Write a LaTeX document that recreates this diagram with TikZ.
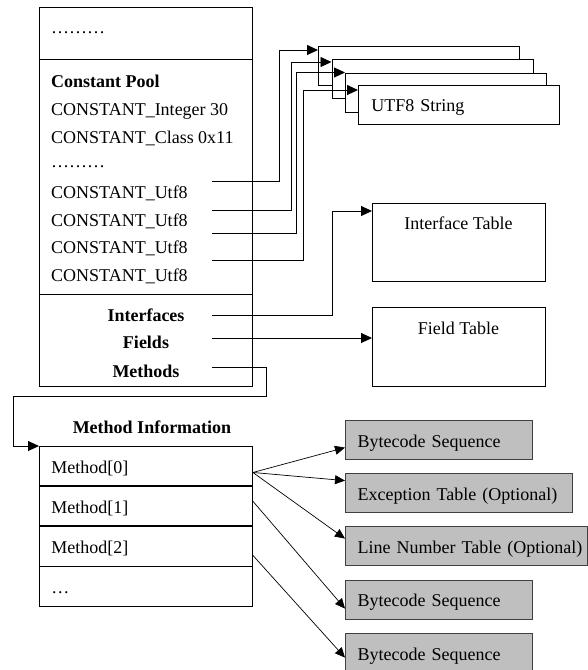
\documentclass[tikz,border=0pt]{standalone}
\usepackage{fontspec}
\setmainfont{Liberation Serif}
\usetikzlibrary{arrows.meta}

\begin{document}
\begin{tikzpicture}[x=1pt,y=-1pt,font=\fontsize{18}{22}\selectfont,
  box/.style={draw,line width=0.9pt,fill=white,inner sep=0pt,anchor=north west},
  row/.style={box,inner xsep=12pt,text width=189pt,minimum height=39.25pt,align=left,text height=14pt,text depth=0pt},
  utf/.style={box,minimum width=201pt,minimum height=39pt},
  tbl/.style={box,minimum width=173pt},
  seq/.style={draw=black!75,line width=1.2pt,fill=black!25,anchor=north west,inner sep=0pt,inner xsep=12pt,
    minimum height=39pt,align=left,text height=14pt,text depth=0pt},
  txt/.style={anchor=base west,inner sep=0pt},
  hd/.style={anchor=base,inner sep=0pt,font=\fontsize{18}{22}\selectfont\bfseries},
  conn/.style={line width=0.9pt,-{Triangle[length=11pt,width=10pt]}},
  mconn/.style={line width=0.7pt,-{Triangle[length=10pt,width=9pt]}}]
  \useasboundingbox (0,0) rectangle (588,670);
  \node[box,minimum width=213pt,minimum height=52pt] (hdr) at (39,7) {};
  \node[box,minimum width=213pt,minimum height=235pt] (pool) at (39,59) {};
  \node[box,minimum width=213pt,minimum height=92pt] (refs) at (39,294) {};
  \node[txt] (dt1) at (51,33) {………};
  \node[txt,font=\fontsize{18}{22}\selectfont\bfseries] (cpool) at (51,87) {Constant Pool};
  \node[txt] (cint) at (51,115) {CONSTANT\_Integer 30};
  \node[txt] (ccls) at (51,143) {CONSTANT\_Class 0x11};
  \node[txt] (dt2) at (51,167) {………};
  \node[txt] (utfa) at (51,198) {CONSTANT\_Utf8};
  \node[txt] (utfb) at (51,226) {CONSTANT\_Utf8};
  \node[txt] (utfc) at (51,253) {CONSTANT\_Utf8};
  \node[txt] (utfd) at (51,281) {CONSTANT\_Utf8};
  \node[hd] (intf) at (146,321) {Interfaces};
  \node[hd] (flds) at (146,348) {Fields};
  \node[hd] (mths) at (146,377) {Methods};

  \node[utf] (s1) at (318,46) {};
  \node[utf] (s2) at (331.5,59) {};
  \node[utf] (s3) at (345,72.5) {};
  \node[utf,inner xsep=13pt,text width=175pt,align=left,text height=14pt,text depth=0pt] (s4) at (358,85) {UTF8 String};
  \node[tbl,minimum height=78pt] (itab) at (372,203) {};
  \node[anchor=base,inner sep=0pt] (itabt) at (458.5,229) {Interface Table};
  \node[tbl,minimum height=79pt] (ftab) at (372,307) {};
  \node[anchor=base,inner sep=0pt] (ftabt) at (458.5,334) {Field Table};

  \node[hd] (minfo) at (152,433) {Method Information};
  \node[row] (m0) at (39,446) {Method[0]};
  \node[row] (m1) at (m0.south west) {Method[1]};
  \node[row] (m2) at (m1.south west) {Method[2]};
  \node[row] (m3) at (m2.south west) {…};

  \node[seq,text width=163pt] (b1) at (345,420) {Bytecode Sequence};
  \node[seq,text width=203pt] (b2) at (345,473) {Exception Table (Optional)};
  \node[seq,text width=218pt] (b3) at (345,526) {\mbox{Line Number Table (Optional)}};
  \node[seq,text width=163pt] (b4) at (345,579.5) {Bytecode Sequence};
  \node[seq,text width=163pt] (b5) at (345,633) {Bytecode Sequence};

  \coordinate (u1) at (212,181); \coordinate (u2) at (212,210);
  \coordinate (u3) at (212,233); \coordinate (u4) at (212,260);
  \coordinate (ci) at (212,315); \coordinate (cf) at (212,338); \coordinate (cm) at (212,367);
  \draw[conn] (u1) -- ++(67,0) |- ([yshift=-4pt]s1.north west);
  \draw[conn] (u2) -- ++(79,0) |- ([yshift=-3pt]s2.north west);
  \draw[conn] (u3) -- ++(84,0) |- (s3.north west);
  \draw[conn] (u4) -- ++(91,0) |- ([yshift=-5pt]s4.north west);
  \draw[conn] (ci) -- ++(120,0) |- ([yshift=-8pt]itab.north west);
  \draw[conn] (cf) -- (cf -| ftab.west);
  \draw[conn] (cm) -- ++(54,0) -- ++(0,29) -| ([xshift=-26pt]m0.north west) -- (m0.north west);
  \draw[mconn] ([yshift=-6.4pt]m0.east) -- ([yshift=-7.5pt]b1.west);
  \draw[mconn] ([yshift=-6.4pt]m0.east) -- ([yshift=12.5pt]b2.west);
  \draw[mconn] ([yshift=-6.4pt]m0.east) -- ([yshift=7.5pt]b3.west);
  \draw[mconn] ([yshift=5pt]m1.east) -- ([yshift=-9pt]b4.west);
  \draw[mconn] ([yshift=-9pt]m2.east) -- ([yshift=-4.5pt]b5.west);
\end{tikzpicture}
\end{document}
